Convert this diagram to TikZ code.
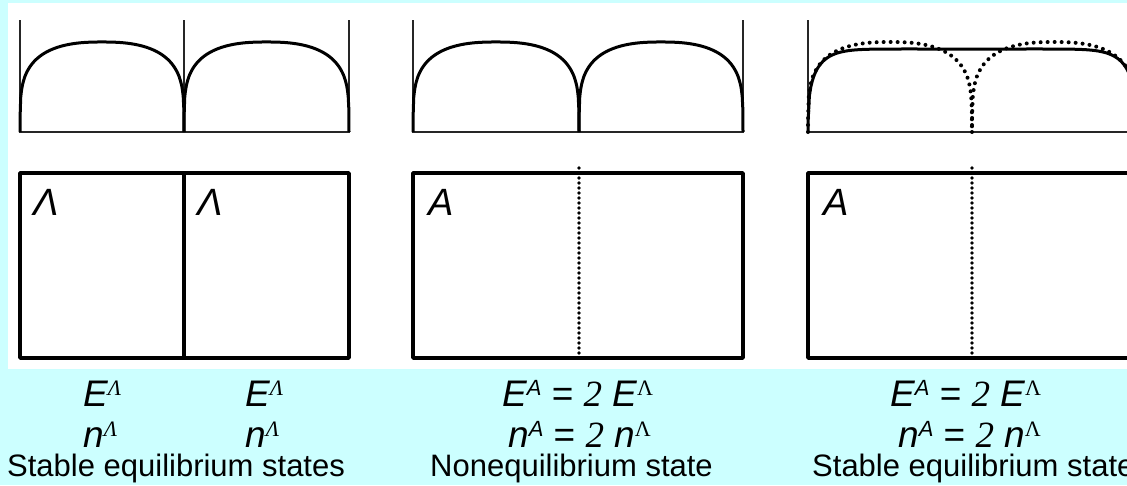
\documentclass[tikz,border=0pt]{standalone}
\usepackage{fontspec}
\setmainfont{Liberation Sans}
\newfontfamily\serifgr{Liberation Serif}
\definecolor{bgcyan}{RGB}{204,255,255}
\newcommand{\supLam}{\raisebox{11pt}{\fontsize{22}{22}\selectfont\serifgr Λ}}
\newcommand{\supA}{\raisebox{11pt}{\fontsize{22}{22}\selectfont\itshape A}}
\newcommand{\twoit}{{\serifgr\itshape 2}}

\begin{document}
\begin{tikzpicture}[x=1pt,y=-1pt,
	thinline/.style={line width=1.5pt, black!85},
	profile/.style={line width=3pt, line join=round},
	dotprofile/.style={line width=4pt, line cap=round, dash pattern=on 0pt off 7pt},
	boxline/.style={line width=3.5pt, line join=round},
	dotwall/.style={line width=3.6pt, line cap=round, dash pattern=on 0pt off 5pt},
	txt/.style={anchor=base west, inner sep=0pt, font=\fontsize{31}{31}\selectfont},
	eqtxt/.style={anchor=base west, inner sep=0pt, font=\fontsize{37}{37}\selectfont},
	boxlabel/.style={anchor=base west, inner sep=0pt, font=\fontsize{38}{38}\selectfont\itshape}]
		
		% Background
		\useasboundingbox (0,0) rectangle (1127,485);
		\clip (0,0) rectangle (1127,485);
		\fill [bgcyan] (0,0) rectangle (1127,485);
		\fill [white] (8,3) rectangle (1127,369);
		
		% Two separate halves
		\draw[thinline] (20,20) -- (20,132) -- (349,132) -- (349,20);
		\draw[thinline] (184,20) -- (184,132);
		\draw[profile] (20,132) -- plot[domain=-0.9999:0.9999, samples=240] ({102+82*\x}, {132-90*(1-abs(\x)^2.5)^0.25}) -- (184,132);
		\draw[profile] (184,132) -- plot[domain=-0.9999:0.9999, samples=240] ({266.5+82.5*\x}, {132-90*(1-abs(\x)^2.5)^0.25}) -- (349,132);
		\draw[boxline] (20,173) rectangle (349,358);
		\draw[boxline] (184,173) -- (184,358);
		\node[boxlabel] (lamL) at (33,215) {Λ};
		\node[boxlabel] (lamR) at (197,215) {Λ};
		
		% Wall removed
		\draw[thinline] (413,20) -- (413,132) -- (743,132) -- (743,20);
		\draw[profile] (413,132) -- plot[domain=-0.9999:0.9999, samples=240] ({496+83*\x}, {132-90*(1-abs(\x)^2.5)^0.25}) -- (579,132);
		\draw[profile] (579,132) -- plot[domain=-0.9999:0.9999, samples=240] ({661+82*\x}, {132-90*(1-abs(\x)^2.5)^0.25}) -- (743,132);
		\draw[boxline] (413,173) rectangle (743,358);
		\draw[dotwall] (579,168) -- (579,356);
		\node[boxlabel] (aMid) at (428,215) {A};
		
		% Relaxed
		\draw[thinline] (808,20) -- (808,132) -- (1140,132);
		\draw[dotprofile] (808,132) -- plot[domain=-0.9999:0.9999, samples=240] ({890+82*\x}, {132-90*(1-abs(\x)^2.5)^0.25}) -- (972,132);
		\draw[dotprofile] (972,132) -- plot[domain=-0.9999:0.9999, samples=240] ({1054+82*\x}, {132-90*(1-abs(\x)^2.5)^0.25}) -- (1136,132);
		\draw[profile] (808,132) -- plot[domain=-0.9999:0.9999, samples=240] ({972+164*\x}, {132-83*(1-abs(\x)^10)^0.3333}) -- (1136,132);
		\draw[boxline] (808,173) rectangle (1136,358);
		\draw[dotwall] (972,168) -- (972,356);
		\node[boxlabel] (aRight) at (823,215) {A};
		
		% Captions
		\node[eqtxt] (eL) at (83,406) {\itshape E\supLam};
		\node[eqtxt] (eR) at (245,406) {\itshape E\supLam};
		\node[eqtxt] (nL) at (83,447) {\itshape n\supLam};
		\node[eqtxt] (nR) at (245,447) {\itshape n\supLam};
		\node[txt] (capL) at (7,476) {Stable equilibrium states};
		
		\node[eqtxt] (eMid) at (502,406) {{\itshape E}\supA{} = \twoit{} {\itshape E}\supLam};
		\node[eqtxt] (nMid) at (508,447) {{\itshape n}\supA{} = \twoit{} {\itshape n}\supLam};
		\node[txt] (capMid) at (430,476) {Nonequilibrium state};
		
		\node[eqtxt] (eRight) at (890,406) {{\itshape E}\supA{} = \twoit{} {\itshape E}\supLam};
		\node[eqtxt] (nRight) at (898,447) {{\itshape n}\supA{} = \twoit{} {\itshape n}\supLam};
		\node[txt] (capRight) at (812,476) {Stable equilibrium state};
		
	\end{tikzpicture}
\end{document}
